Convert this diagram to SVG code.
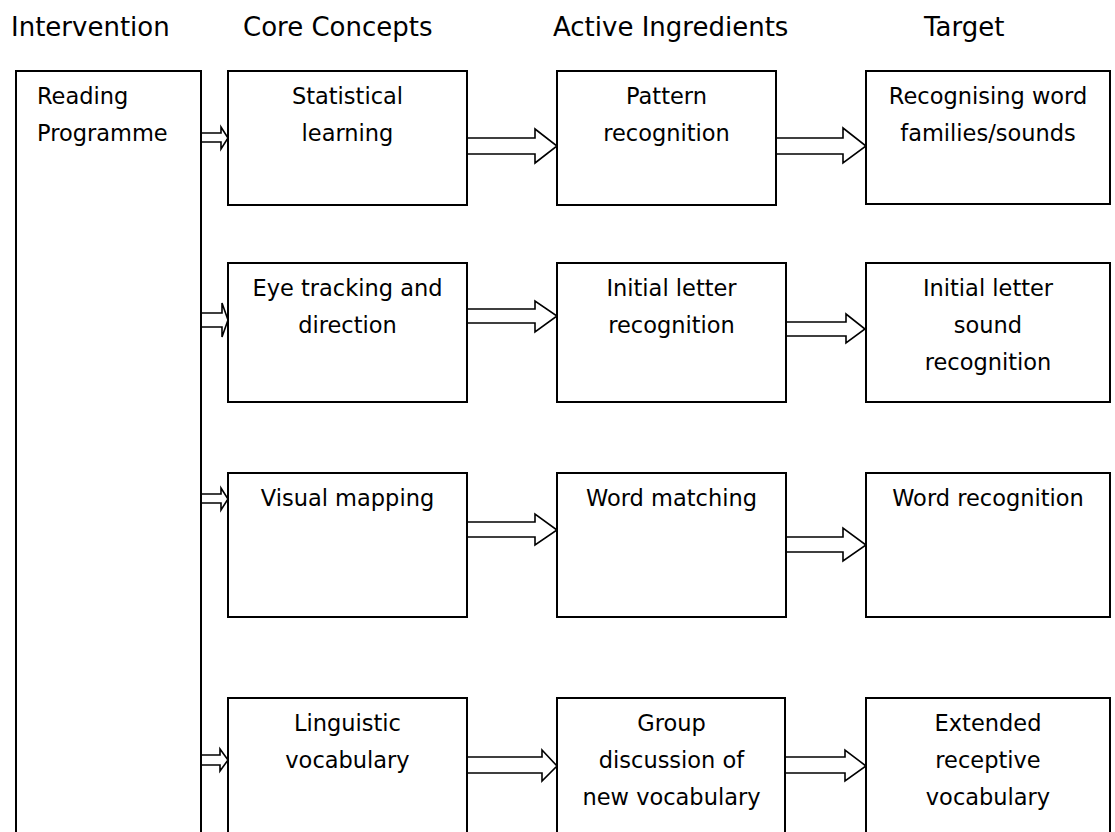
<svg xmlns="http://www.w3.org/2000/svg" width="1115" height="832" viewBox="0 0 1115 832">
<style>
.box{fill:#fff;stroke:#000;stroke-width:2}
.arr{fill:#fff;stroke:#000;stroke-width:1.6;stroke-linejoin:miter}
text{font-family:"DejaVu Sans","Liberation Sans",sans-serif;fill:#000}
.h{font-size:26px}
.t{font-size:22.5px;text-anchor:middle}
.l{font-size:22.5px}
</style>
<rect width="1115" height="832" fill="#fff"/>
<g id="headers">
<text class="h" x="11" y="36">Intervention</text>
<text class="h" x="243" y="36">Core Concepts</text>
<text class="h" x="553" y="36">Active Ingredients</text>
<text class="h" x="924" y="36">Target</text>
</g>
<g id="connectors">
<polygon class="arr" points="201,133 221,133 221,127 228,138 221,149 221,142 201,142"/>
<polygon class="arr" points="201,313 222,313 222,303 228,320 222,337 222,327 201,327"/>
<polygon class="arr" points="201,494 221,494 221,488 228,499 221,510 221,503 201,503"/>
<polygon class="arr" points="201,755 220,755 220,749 228,760 220,771 220,765 201,765"/>
<polygon class="arr" points="467,138 535,138 535,129 557,146 535,163 535,154 467,154"/>
<polygon class="arr" points="776,138 843,138 843,128 866,146 843,163 843,154 776,154"/>
<polygon class="arr" points="467,309 535,309 535,301 557,316 535,332 535,323 467,323"/>
<polygon class="arr" points="786,322 846,322 846,314 865,329 846,343 846,336 786,336"/>
<polygon class="arr" points="467,522 535,522 535,514 557,530 535,545 535,537 467,537"/>
<polygon class="arr" points="786,537 843,537 843,528 866,545 843,561 843,552 786,552"/>
<polygon class="arr" points="467,757 542,757 542,750 557,766 542,781 542,773 467,773"/>
<polygon class="arr" points="785,757 845,757 845,750 866,766 845,781 845,773 785,773"/>
</g>
<g id="reading-programme">
<rect class="box" x="16" y="71" width="185" height="800"/>
<text class="l" x="37" y="104">Reading</text>
<text class="l" x="37" y="141">Programme</text>
</g>
<g id="statistical-learning">
<rect class="box" x="228" y="71" width="239" height="134"/>
<text class="t" x="347.5" y="104">Statistical</text>
<text class="t" x="347.5" y="141">learning</text>
</g>
<g id="pattern-recognition">
<rect class="box" x="557" y="71" width="219" height="134"/>
<text class="t" x="666.5" y="104">Pattern</text>
<text class="t" x="666.5" y="141">recognition</text>
</g>
<g id="recognising-word-families">
<rect class="box" x="866" y="71" width="244" height="133"/>
<text class="t" x="988" y="104">Recognising word</text>
<text class="t" x="988" y="141">families/sounds</text>
</g>
<g id="eye-tracking">
<rect class="box" x="228" y="263" width="239" height="139"/>
<text class="t" x="347.5" y="296">Eye tracking and</text>
<text class="t" x="347.5" y="333">direction</text>
</g>
<g id="initial-letter-recognition">
<rect class="box" x="557" y="263" width="229" height="139"/>
<text class="t" x="671.5" y="296">Initial letter</text>
<text class="t" x="671.5" y="333">recognition</text>
</g>
<g id="initial-letter-sound">
<rect class="box" x="866" y="263" width="244" height="139"/>
<text class="t" x="988" y="296">Initial letter</text>
<text class="t" x="988" y="333">sound</text>
<text class="t" x="988" y="370">recognition</text>
</g>
<g id="visual-mapping">
<rect class="box" x="228" y="473" width="239" height="144"/>
<text class="t" x="347.5" y="506">Visual mapping</text>
</g>
<g id="word-matching">
<rect class="box" x="557" y="473" width="229" height="144"/>
<text class="t" x="671.5" y="506">Word matching</text>
</g>
<g id="word-recognition">
<rect class="box" x="866" y="473" width="244" height="144"/>
<text class="t" x="988" y="506">Word recognition</text>
</g>
<g id="linguistic-vocabulary">
<rect class="box" x="228" y="698" width="239" height="200"/>
<text class="t" x="347.5" y="731">Linguistic</text>
<text class="t" x="347.5" y="768">vocabulary</text>
</g>
<g id="group-discussion">
<rect class="box" x="557" y="698" width="228" height="200"/>
<text class="t" x="671.5" y="731">Group</text>
<text class="t" x="671.5" y="768">discussion of</text>
<text class="t" x="671.5" y="805">new vocabulary</text>
</g>
<g id="extended-receptive">
<rect class="box" x="866" y="698" width="244" height="200"/>
<text class="t" x="988" y="731">Extended</text>
<text class="t" x="988" y="768">receptive</text>
<text class="t" x="988" y="805">vocabulary</text>
</g>
</svg>
